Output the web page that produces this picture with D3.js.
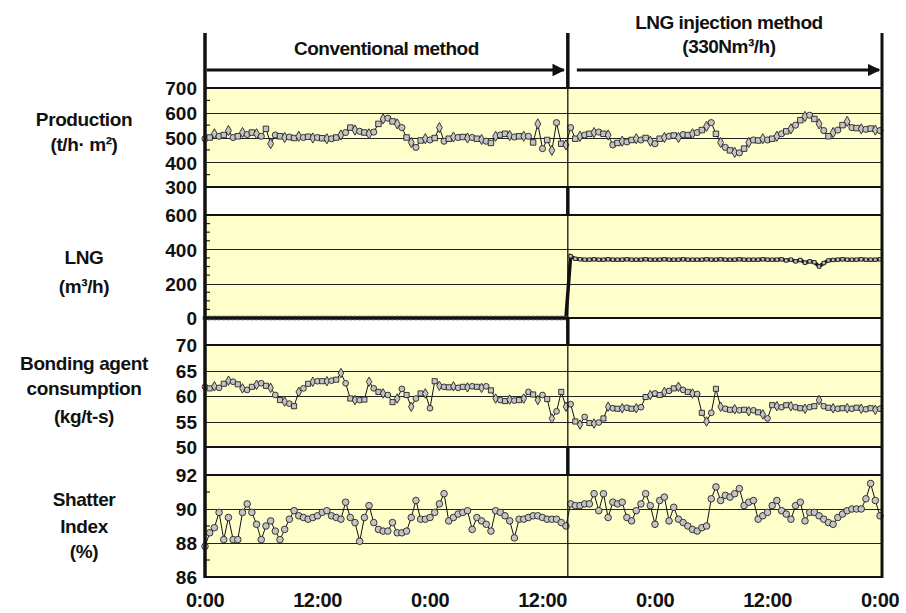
<!DOCTYPE html>
<html>
<head>
<meta charset="utf-8">
<script src="https://cdn.jsdelivr.net/npm/d3@7"></script>
<style>
  body { margin: 0; background: #fff; }
  text { font-family: "Liberation Sans", Arial, sans-serif; font-weight: bold; fill: #111; }
</style>
</head>
<body>
<div id="chart"></div>
<script>
// operation record, 3 days, sampled every 30 min
var hours = d3.range(0, 72.5, 0.5)
var changeHour = 38.7   // switch from conventional to LNG injection
var timeTicks = [0, 12, 24, 36, 48, 60, 72]
var timeLabels = ["0:00", "12:00", "0:00", "12:00", "0:00", "12:00", "0:00"]

var production = [
  495, 500, 515, 505, 510, 528, 500, 505, 520, 512,
  520, 515, 505, 535, 475, 510, 505, 500, 502, 498,
  505, 500, 503, 498, 500, 497, 495, 495, 500, 510,
  520, 540, 530, 525, 520, 515, 522, 555, 575, 578,
  565, 555, 540, 500, 480, 460, 488, 495, 490, 498,
  540, 485, 495, 502, 500, 502, 498, 500, 495, 492,
  485, 478, 505, 510, 515, 508, 502, 505, 505, 505,
  480, 555, 455, 490, 448, 560, 475, 470,
  540, 495, 505, 510, 515, 520, 522, 515, 510, 470,
  478, 485, 482, 490, 495, 490, 498, 485, 475, 495,
  500, 505, 508, 500, 512, 510, 515, 520, 530, 545,
  560, 515, 480, 460, 448, 440, 438, 455, 480, 490,
  488, 495, 490, 495, 505, 515, 525, 535, 550, 570,
  585, 590, 575, 555, 528, 505, 520, 530, 550, 565,
  540, 538, 535, 533, 536, 530, 528
]

var lngFlow = [
  0, 0, 0, 0, 0, 0, 0, 0, 0, 0,
  0, 0, 0, 0, 0, 0, 0, 0, 0, 0,
  0, 0, 0, 0, 0, 0, 0, 0, 0, 0,
  0, 0, 0, 0, 0, 0, 0, 0, 0, 0,
  0, 0, 0, 0, 0, 0, 0, 0, 0, 0,
  0, 0, 0, 0, 0, 0, 0, 0, 0, 0,
  0, 0, 0, 0, 0, 0, 0, 0, 0, 0,
  0, 0, 0, 0, 0, 0, 0, 0,
  360, 345, 342, 340, 340, 342, 340, 340, 342, 340,
  340, 340, 342, 340, 340, 340, 342, 340, 340, 340,
  342, 340, 340, 340, 342, 340, 340, 340, 340, 342,
  340, 340, 342, 340, 340, 340, 342, 340, 340, 340,
  340, 342, 340, 340, 340, 342, 335, 340, 330, 338,
  322, 330, 325, 300, 320, 335, 338, 340, 342, 340,
  340, 340, 342, 340, 340, 340, 342
]

var bonding = [
  61.8, 61.5, 61.9, 61.6, 62.4, 63.0, 62.8, 62.3, 61.5, 61.2,
  61.8, 62.2, 62.5, 62.0, 61.6, 60.2, 59.2, 58.9, 58.5, 58.0,
  60.8, 61.5, 62.4, 62.8, 62.9, 62.9, 62.9, 63.0, 63.2, 64.5,
  62.5, 59.5, 59.2, 59.2, 59.3, 62.8, 61.5, 60.8, 60.5, 60.2,
  58.8, 59.5, 61.4, 60.2, 57.9, 59.5, 60.5, 60.5, 57.6, 62.9,
  62.0, 61.8, 61.7, 61.9, 61.6, 61.8, 61.7, 61.9, 61.8, 61.6,
  61.9, 61.1, 59.5, 59.2, 59.0, 59.3, 59.1, 59.2, 59.5, 60.8,
  60.3, 59.2, 60.2, 59.4, 55.6, 57.0, 60.8, 57.9,
  58.4, 55.0, 54.4, 55.9, 54.7, 54.6, 54.8, 55.6, 57.9, 57.6,
  57.5, 57.6, 57.7, 57.5, 57.6, 57.8, 59.8, 60.2, 60.5, 60.2,
  60.8, 61.0, 61.5, 61.8, 61.2, 60.8, 60.5, 60.4, 56.7, 55.0,
  56.7, 61.4, 57.9, 57.5, 57.3, 57.4, 57.2, 57.3, 57.0, 57.2,
  56.8, 56.4, 55.6, 58.2, 58.0, 57.8, 58.2, 58.0, 57.8, 57.6,
  57.5, 57.8, 58.0, 59.2, 58.0, 57.7, 57.6, 57.5, 57.6, 57.6,
  57.5, 57.7, 57.5, 57.4, 57.6, 57.3, 57.5
]

var shatter = [
  87.8, 88.6, 88.9, 89.8, 88.2, 89.5, 88.2, 88.2, 89.8, 90.3,
  89.8, 89.1, 88.2, 89.0, 89.3, 88.7, 88.2, 88.8, 89.4, 89.9,
  89.6, 89.5, 89.4, 89.5, 89.6, 89.8, 89.9, 89.6, 89.5, 89.4,
  90.4, 89.5, 89.2, 88.1, 89.5, 90.2, 89.2, 88.8, 88.7, 88.7,
  89.2, 88.6, 88.6, 88.7, 89.5, 90.5, 89.4, 89.4, 89.5, 89.8,
  90.3, 90.9, 89.3, 89.5, 89.7, 89.8, 89.9, 88.8, 89.5, 89.3,
  89.1, 88.7, 89.9, 89.8, 89.6, 89.3, 88.3, 89.4, 89.4, 89.5,
  89.6, 89.6, 89.5, 89.4, 89.4, 89.4, 89.2, 89.0,
  90.3, 90.2, 90.2, 90.3, 90.3, 90.9, 89.9, 90.9, 89.5, 90.4,
  90.3, 90.4, 89.5, 89.3, 89.9, 90.3, 90.9, 90.2, 89.1, 90.5,
  90.7, 89.3, 90.1, 89.4, 89.2, 89.0, 88.8, 88.7, 88.9, 89.0,
  90.6, 91.3, 90.5, 90.8, 90.7, 90.9, 91.2, 90.2, 90.4, 90.5,
  89.4, 89.6, 89.8, 90.2, 90.5, 89.9, 89.7, 89.4, 90.2, 90.4,
  89.3, 89.8, 89.8, 89.6, 89.4, 89.2, 89.1, 89.5, 89.7, 89.9,
  90.0, 90.0, 90.0, 90.6, 91.5, 90.5, 89.6
]

var prodTicks = [300, 400, 500, 600, 700]
var lngTicks = [0, 200, 400, 600]
var bondTicks = [50, 55, 60, 65, 70]
var shatterTicks = [86, 88, 90, 92]

var width = 906, height = 613
var plotLeft = 205, plotRight = 880
var headerTop = 33, arrowY = 70
var yellow = "#ffffcc"

var panels = [
  {lines: ["Production", "(t/h· m²)"], lineY: [126, 151], values: production, ticks: prodTicks,
   minor: 50, top: 88, bottom: 187, mark: 30, lineW: 1},
  {lines: ["LNG", "(m³/h)"], lineY: [264, 293], values: lngFlow, ticks: lngTicks,
   minor: 50, top: 215, bottom: 318, mark: 12, lineW: 3.5},
  {lines: ["Bonding agent", "consumption", "(kg/t-s)"], lineY: [370, 395, 423], values: bonding, ticks: bondTicks,
   minor: 0, top: 345, bottom: 447, mark: 26, lineW: 1},
  {lines: ["Shatter", "Index", "(%)"], lineY: [506, 533, 558], values: shatter, ticks: shatterTicks,
   minor: 1, top: 475, bottom: 577, mark: 34, lineW: 1}
]

var shapes = [d3.symbolCircle, d3.symbolSquare, d3.symbolDiamond]

var svg = d3.select("#chart").append("svg")
  .attr("width", width)
  .attr("height", height)

svg.append("rect").attr("width", width).attr("height", height).attr("fill", "#fff")

var x = d3.scaleLinear().domain([0, 72]).range([plotLeft, plotRight])
var xSplit = x(changeHour)

panels.forEach(function(p, pi) {
  var ticks = p.ticks
  var y = d3.scaleLinear()
    .domain([ticks[0], ticks[ticks.length - 1]])
    .range([p.bottom, p.top])

  var g = svg.append("g")

  g.append("rect")
    .attr("x", plotLeft).attr("y", p.top)
    .attr("width", plotRight + 2 - plotLeft).attr("height", p.bottom - p.top)
    .attr("fill", yellow)

  // grid
  g.selectAll(".grid")
    .data(ticks.slice(1, -1))
    .enter().append("line")
    .attr("x1", plotLeft).attr("x2", plotRight + 2)
    .attr("y1", function(d) { return Math.round(y(d)) + 0.5 })
    .attr("y2", function(d) { return Math.round(y(d)) + 0.5 })
    .attr("stroke", "#222").attr("stroke-width", 1.2)

  // minor ticks, inward
  if (p.minor) {
    var minorVals = d3.range(ticks[0], ticks[ticks.length - 1], p.minor)
      .filter(function(v) { return ticks.indexOf(v) < 0 })
    g.selectAll(".minor")
      .data(minorVals)
      .enter().append("line")
      .attr("x1", plotLeft).attr("x2", plotLeft + 5)
      .attr("y1", function(d) { return y(d) }).attr("y2", function(d) { return y(d) })
      .attr("stroke", "#222").attr("stroke-width", 1.2)
  }

  // y axis labels
  var axis = d3.axisLeft(y).tickValues(ticks).tickFormat(d3.format("d")).tickSize(0).tickPadding(7)
  var ag = g.append("g").attr("transform", "translate(" + (plotLeft - 1) + ",0)").call(axis)
  ag.select(".domain").remove()
  ag.selectAll("text").style("font-size", "19px").attr("dy", "0.36em")
    .attr("font-family", null)

  // panel caption
  g.selectAll(".cap")
    .data(p.lines)
    .enter().append("text")
    .attr("x", 84)
    .attr("y", function(d, i) { return p.lineY[i] })
    .attr("text-anchor", "middle")
    .style("font-size", "19px")
    .style("letter-spacing", "-0.4px")
    .text(function(d) { return d })

  var pts = hours.map(function(h, i) { return [h, p.values[i]] })

  g.append("path")
    .datum(pts)
    .attr("fill", "none")
    .attr("stroke", "#111")
    .attr("stroke-width", p.lineW)
    .attr("d", d3.line()
      .x(function(d) { return x(d[0]) })
      .y(function(d) { return y(d[1]) }))

  g.selectAll(".pt")
    .data(pts)
    .enter().append("path")
    .attr("transform", function(d) { return "translate(" + x(d[0]) + "," + y(d[1]) + ")" })
    .attr("d", function(d, i) {
      var type = pi == 3 ? d3.symbolCircle : (pi == 1 ? d3.symbolSquare : shapes[i % 3])
      return d3.symbol().type(type).size(p.mark)()
    })
    .attr("fill", "#c4c4c4")
    .attr("stroke", "#222")
    .attr("stroke-width", 0.9)

  // panel border top/bottom
  g.selectAll(".edge")
    .data([p.top, p.bottom])
    .enter().append("line")
    .attr("x1", plotLeft).attr("x2", plotRight + 3)
    .attr("y1", function(d) { return d }).attr("y2", function(d) { return d })
    .attr("stroke", "#111").attr("stroke-width", 2.2)
})

// divider between methods: thin in panels, thick in header and gaps
svg.append("line")
  .attr("x1", xSplit).attr("x2", xSplit)
  .attr("y1", headerTop).attr("y2", panels[3].bottom)
  .attr("stroke", "#111").attr("stroke-width", 1.3)

var gaps = [[headerTop, panels[0].top]]
for (var i = 0; i < panels.length - 1; i++) gaps.push([panels[i].bottom, panels[i + 1].top])

svg.selectAll(".gapline")
  .data(gaps)
  .enter().append("line")
  .attr("x1", xSplit).attr("x2", xSplit)
  .attr("y1", function(d) { return d[0] }).attr("y2", function(d) { return d[1] })
  .attr("stroke", "#111").attr("stroke-width", 3.5)

// left and right frame
svg.append("line")
  .attr("x1", plotLeft).attr("x2", plotLeft)
  .attr("y1", headerTop).attr("y2", panels[3].bottom + 1)
  .attr("stroke", "#111").attr("stroke-width", 3.5)

svg.append("line")
  .attr("x1", plotRight + 2).attr("x2", plotRight + 2)
  .attr("y1", headerTop).attr("y2", panels[3].bottom + 1)
  .attr("stroke", "#111").attr("stroke-width", 3)

// header arrows
var defs = svg.append("defs")
defs.append("marker")
  .attr("id", "head")
  .attr("viewBox", "0 0 10 10")
  .attr("refX", 9).attr("refY", 5)
  .attr("markerWidth", 4.5).attr("markerHeight", 4.5)
  .attr("orient", "auto")
  .append("path").attr("d", "M0,0L10,5L0,10Z").attr("fill", "#111")

var arrows = [[plotLeft + 2, xSplit - 4], [xSplit + 9, plotRight - 1]]
svg.selectAll(".arrow")
  .data(arrows)
  .enter().append("line")
  .attr("x1", function(d) { return d[0] }).attr("x2", function(d) { return d[1] })
  .attr("y1", arrowY).attr("y2", arrowY)
  .attr("stroke", "#111").attr("stroke-width", 2.8)
  .attr("marker-end", "url(#head)")

svg.append("text")
  .attr("x", (plotLeft + xSplit) / 2).attr("y", 55)
  .attr("text-anchor", "middle")
  .style("font-size", "19px").style("letter-spacing", "-0.5px")
  .text("Conventional method")

svg.append("text")
  .attr("x", (xSplit + plotRight) / 2 + 5).attr("y", 29)
  .attr("text-anchor", "middle")
  .style("font-size", "19px").style("letter-spacing", "-0.5px")
  .text("LNG injection method")

svg.append("text")
  .attr("x", (xSplit + plotRight) / 2 + 5).attr("y", 53)
  .attr("text-anchor", "middle")
  .style("font-size", "19px").style("letter-spacing", "-0.5px")
  .text("(330Nm³/h)")

// time axis
svg.selectAll(".tlab")
  .data(timeTicks)
  .enter().append("text")
  .attr("x", function(d) { return x(d) })
  .attr("y", 607)
  .attr("text-anchor", "middle")
  .style("font-size", "20px")
  .style("letter-spacing", "-0.5px")
  .text(function(d, i) { return timeLabels[i] })
</script>
</body>
</html>
